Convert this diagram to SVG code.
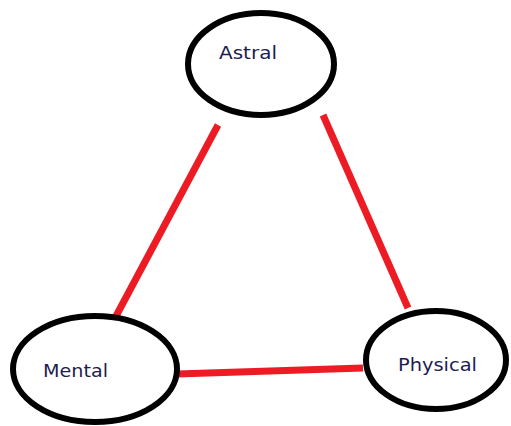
<svg xmlns="http://www.w3.org/2000/svg" width="511" height="426" viewBox="0 0 511 426">
  <style>
    .node { fill: #ffffff; stroke: #000000; stroke-width: 6; }
    .label { font-family: "Comic Sans MS", "DejaVu Sans", sans-serif; font-size: 18px; fill: #1c1c50; }
    .link { stroke: #ed1c24; stroke-width: 7; fill: none; }
  </style>
  <rect width="511" height="426" fill="#ffffff"/>
  <g id="connectors">
    <line class="link" x1="218" y1="125" x2="115" y2="318"/>
    <line class="link" x1="323" y1="115" x2="408" y2="308"/>
    <line class="link" x1="177" y1="374" x2="363" y2="368"/>
  </g>
  <g id="astral">
    <ellipse class="node" cx="261" cy="64" rx="73" ry="51"/>
    <text class="label" x="219" y="59" textLength="58" lengthAdjust="spacingAndGlyphs">Astral</text>
  </g>
  <g id="mental">
    <ellipse class="node" cx="95" cy="369" rx="82" ry="53"/>
    <text class="label" x="43" y="377" textLength="65" lengthAdjust="spacingAndGlyphs">Mental</text>
  </g>
  <g id="physical">
    <ellipse class="node" cx="436" cy="360" rx="70" ry="49"/>
    <text class="label" x="398" y="371" textLength="79" lengthAdjust="spacingAndGlyphs">Physical</text>
  </g>
</svg>
